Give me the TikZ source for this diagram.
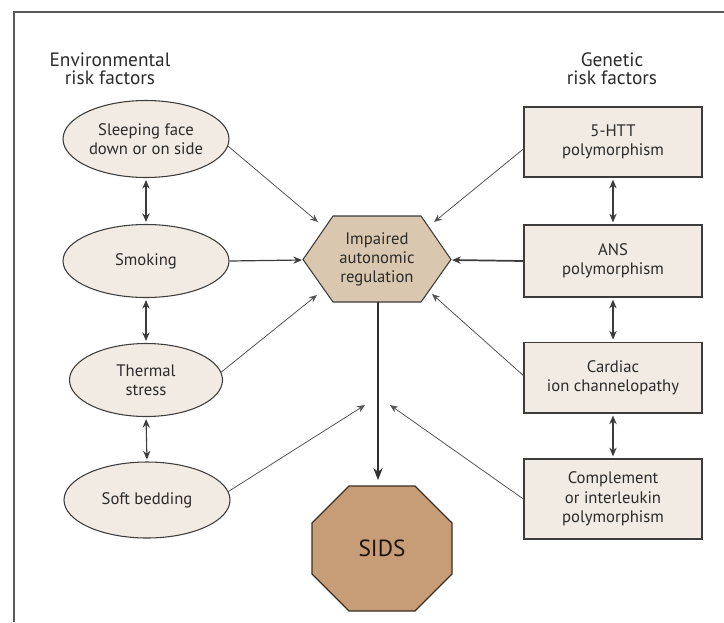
\documentclass[tikz,border=0pt]{standalone}
\usepackage{fontspec}
\setmainfont{PT Sans}
\usetikzlibrary{shapes.geometric,arrows.meta,calc}
\definecolor{txt}{HTML}{2B2B2B}
\definecolor{lightfill}{HTML}{F2EBE3}
\definecolor{hexfill}{HTML}{DAC7AF}
\definecolor{octfill}{HTML}{C69D77}
\definecolor{linec}{HTML}{3C3C3C}
\definecolor{arrc}{HTML}{555555}
\begin{document}
\begin{tikzpicture}[x=0.75pt,y=-0.75pt,
  bodyfont/.style={font=\fontsize{12.5}{14.5}\selectfont, text=txt, align=center},
  heading/.style={font=\fontsize{14.5}{13.5}\selectfont, text=txt, align=center},
  envnode/.style={ellipse, draw=linec, fill=lightfill, line width=0.8pt, inner sep=0pt, bodyfont},
  genbox/.style={rectangle, draw=linec, fill=lightfill, line width=1pt, inner sep=0pt, minimum width=133.5pt, bodyfont},
  thin/.style={draw=arrc, line width=0.6pt, -{Stealth[length=6pt,width=5pt]}},
  mid/.style={draw=linec, line width=0.9pt, -{Stealth[length=6.5pt,width=5.5pt]}},
  dbl/.style={draw=linec, line width=0.8pt, {Stealth[length=6.5pt,width=5.5pt]}-{Stealth[length=6.5pt,width=5.5pt]}, shorten <=1.5pt, shorten >=1.5pt},
  big/.style={draw=linec!80!black, line width=1.8pt, -{Stealth[length=9pt,width=7pt]}},
  frame/.style={draw=black!65, line width=1.2pt}
]
\useasboundingbox (0,0) rectangle (724,622);
\draw[frame] (14,622) -- (14,12) -- (724,12);

% headings
\node[heading] (envh) at (110,69) {Environmental\\risk factors};
\node[heading] (genh) at (612,69) {Genetic\\risk factors};

% environmental factors
\node[envnode, minimum width=124.5pt, minimum height=57.75pt] (e1) at (146,139) {Sleeping face\\down or on side};
\node[envnode, minimum width=124.5pt, minimum height=54.75pt] (e2) at (146,261) {Smoking};
\node[envnode, minimum width=114.75pt, minimum height=54.75pt] (e3) at (146,380) {Thermal\\stress};
\node[envnode, minimum width=124.5pt, minimum height=57pt] (e4) at (147,500) {Soft bedding};

% genetic factors
\node[genbox, minimum height=52.5pt] (b1) at (613,142) {5-HTT\\polymorphism};
\node[genbox, minimum height=54pt] (b2) at (613,261) {ANS\\polymorphism};
\node[genbox, minimum height=53pt] (b3) at (613,377.5) {Cardiac\\ion channelopathy};
\node[genbox, minimum height=60pt] (b4) at (613,499) {Complement\\or interleukin\\polymorphism};

% hexagon
\filldraw[fill=hexfill, draw=linec, line width=0.8pt]
  (303,259.5) -- (333,216) -- (421,216) -- (451,259.5) -- (421,302) -- (333,302) -- cycle;
\node[bodyfont, minimum width=88pt, minimum height=64pt, inner sep=0pt] (hex) at (377,259.5) {Impaired\\autonomic\\regulation};

% octagon
\filldraw[fill=octfill, draw=black!70!octfill, line width=0.9pt]
  (349,486) -- (415,486) -- (452,523) -- (452,574) -- (415,611) -- (349,611) -- (312,574) -- (312,523) -- cycle;
\node[font=\fontsize{17.5}{20}\selectfont, text=black!85!brown, minimum width=105pt, minimum height=93.75pt, inner sep=0pt] (sids) at (382,548.5) {SIDS};

% tip coordinates
\coordinate (hTL) at (318,222);
\coordinate (hL) at (302,260);
\coordinate (hBL) at (317,295);
\coordinate (hTR) at (434,222);
\coordinate (hR) at (452,260);
\coordinate (hBR) at (432,294);
\coordinate (lowL) at (365,405);
\coordinate (lowR) at (390,405);
\coordinate (hB) at (378,302);
\coordinate (sTop) at (378,480);

% double arrows
\draw[dbl] (e1.south) -- (e2.north);
\draw[dbl] (e2.south) -- (e3.north);
\draw[dbl] (e3.south) -- (e4.north);
\draw[dbl] (b1.south) -- (b2.north);
\draw[dbl] (b2.south) -- (b3.north);
\draw[dbl] (b3.south) -- (b4.north);

% arrows to hexagon
\draw[thin] (e1.-5) -- (hTL);
\draw[mid] (e2.east) -- (hL);
\draw[thin] (e3.6) -- (hBL);
\draw[thin] (e4.6) -- (lowL);
\draw[thin] ($(b1.west)+(0,7)$) -- (hTR);
\draw[mid, line width=1.3pt] (b2.west) -- (hR);
\draw[thin] ($(b3.west)+(0,-2)$) -- (hBR);
\draw[thin] (b4.west) -- (lowR);

% main arrow
\draw[big] (hB) -- (sTop);
\end{tikzpicture}
\end{document}
